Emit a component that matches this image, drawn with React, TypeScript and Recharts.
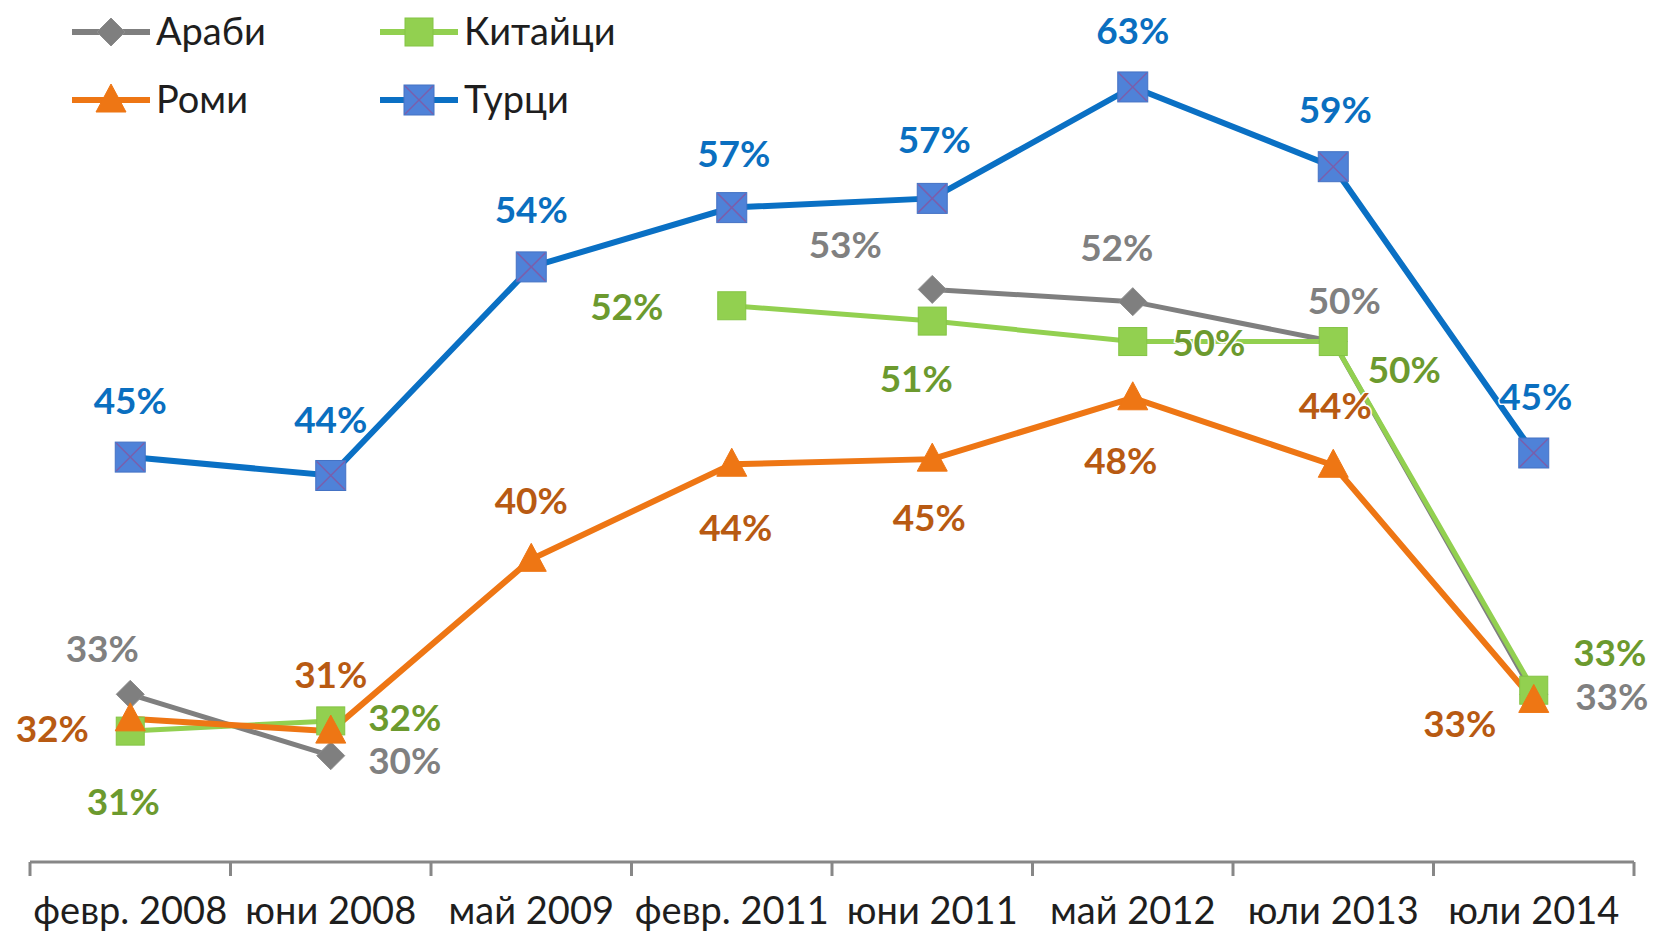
import React from 'react';
import { LineChart, Line, XAxis, YAxis, LabelList, Legend } from 'recharts';

// ---- data ----
const categories = ['февр. 2008', 'юни 2008', 'май 2009', 'февр. 2011', 'юни 2011', 'май 2012', 'юли 2013', 'юли 2014'];
const arabi = [33.2, 30.2, null, null, 53.0, 52.4, 50.45, 33.2];
const kitaytsi = [31.4, 31.9, null, 52.2, 51.45, 50.45, 50.45, 33.4];
const romi = [32.0, 31.4, 39.8, 44.45, 44.7, 47.7, 44.4, 32.9];
const turtsi = [44.8, 43.9, 54.1, 57.0, 57.45, 62.9, 59.0, 45.0];
const seriesNames = ['Араби', 'Китайци', 'Роми', 'Турци'];

const data = categories.map((c, i) => ({
  cat: c,
  arabi: arabi[i],
  kitaytsi: kitaytsi[i],
  romi: romi[i],
  turtsi: turtsi[i],
}));

// ---- layout ----
const W = 1653;
const H = 936;
const M = { top: 44, right: 19, left: 30, bottom: 0 };
const STEP = (W - M.left - M.right) / categories.length;
const FONT = 'Lato, "Liberation Sans", sans-serif';

const COLORS = {
  arabi: { line: '#7f7f7f', label: '#808080' },
  kitaytsi: { line: '#92D050', label: '#6c9a2e' },
  romi: { line: '#EE7614', label: '#b85a12' },
  turtsi: { line: '#0a70c4', label: '#0a6fc0' },
};

// label offsets (dx, dy) from each point
const arabiOffsets = [[-28, -45], [74, 5], [0, 0], [0, 0], [-87, -44], [-16, -54], [11, -41], [78, 3]];
const kitaytsiOffsets = [[-7, 71], [74, -3], [0, 0], [-105, 1], [-16, 58], [76, 1], [71, 28], [76, -37]];
const romiOffsets = [[-78, 10], [0, -56], [0, -58], [4, 64], [-3, 59], [-12, 63], [2, -59], [-74, 24]];
const turtsiOffsets = [[0, -56], [0, -55], [0, -57], [2, -54], [2, -58], [0, -56], [2, -57], [2, -56]];

type Shape = 'diamond' | 'square' | 'triangle' | 'xsquare';

function Marker({ cx, cy, shape }: { cx: number; cy: number; shape: Shape }) {
  if (shape === 'diamond') {
    return (
      <polygon
        points={`${cx},${cy - 14} ${cx + 14},${cy} ${cx},${cy + 14} ${cx - 14},${cy}`}
        fill="#7f7f7f"
        stroke="#8c8c8c"
        strokeWidth={1}
      />
    );
  }
  if (shape === 'square') {
    return <rect x={cx - 14} y={cy - 14} width={28} height={28} fill="#92D050" stroke="#84c444" strokeWidth={1} />;
  }
  if (shape === 'triangle') {
    return (
      <polygon
        points={`${cx},${cy - 16} ${cx + 15},${cy + 12} ${cx - 15},${cy + 12}`}
        fill="#EE7614"
        stroke="#EE7614"
        strokeWidth={1}
      />
    );
  }
  return (
    <g>
      <rect x={cx - 15} y={cy - 15} width={30} height={30} fill="#4f82d8" stroke="#4472c4" strokeWidth={1} />
      <line x1={cx - 14} y1={cy - 14} x2={cx + 14} y2={cy + 14} stroke="#7b5eab" strokeWidth={1.5} />
      <line x1={cx + 14} y1={cy - 14} x2={cx - 14} y2={cy + 14} stroke="#7b5eab" strokeWidth={1.5} />
    </g>
  );
}

const makeDot = (shape: Shape) => (props: any) => {
  const { cx, cy, index, value } = props;
  if (cx == null || cy == null || value == null || (Array.isArray(value) && value[1] == null)) {
    return <g key={`d-${shape}-${index}`} />;
  }
  return (
    <g key={`d-${shape}-${index}`}>
      <Marker cx={cx} cy={cy} shape={shape} />
    </g>
  );
};

const makeLabel = (offsets: number[][], color: string) => (props: any) => {
  const { x, y, value, index } = props;
  if (value == null || x == null || y == null) return null;
  const [dx, dy] = offsets[index];
  return (
    <text
      key={`l-${color}-${index}`}
      x={x + dx}
      y={y + dy + 13}
      textAnchor="middle"
      fill={color}
      fontFamily={FONT}
      fontWeight="bold"
      fontSize={37}
      stroke="#ffffff"
      strokeWidth={3}
      paintOrder="stroke"
    >
      {`${Math.round(Number(value))}%`}
    </text>
  );
};

const renderTick = (props: any) => {
  const { x, y, payload, index } = props;
  return (
    <g>
      <line x1={x - STEP / 2} x2={x - STEP / 2} y1={y} y2={y + 14} stroke="#878787" strokeWidth={3} />
      {index === categories.length - 1 && (
        <line x1={x + STEP / 2} x2={x + STEP / 2} y1={y} y2={y + 14} stroke="#878787" strokeWidth={3} />
      )}
      <text x={x} y={y + 62} textAnchor="middle" fill="#1e1e1e" fontFamily={FONT} fontSize={38}>
        {payload.value}
      </text>
    </g>
  );
};

const legendLayout = [
  { x: 72, y: 32, color: COLORS.arabi.line, shape: 'diamond' as Shape },
  { x: 380, y: 32, color: COLORS.kitaytsi.line, shape: 'square' as Shape },
  { x: 72, y: 100, color: COLORS.romi.line, shape: 'triangle' as Shape },
  { x: 380, y: 100, color: COLORS.turtsi.line, shape: 'xsquare' as Shape },
];

const renderLegend = () => (
  <svg width={720} height={140} style={{ display: 'block' }}>
    {seriesNames.map((name, i) => {
      const l = legendLayout[i];
      return (
        <g key={name}>
          <line x1={l.x} x2={l.x + 78} y1={l.y} y2={l.y} stroke={l.color} strokeWidth={6} />
          <Marker cx={l.x + 39} cy={l.y} shape={l.shape} />
          <text x={l.x + 84} y={l.y + 13} fill="#1e1e1e" fontFamily={FONT} fontSize={38}>
            {name}
          </text>
        </g>
      );
    })}
  </svg>
);

export default function App() {
  return (
    <div style={{ position: 'absolute', left: 0, top: 0, width: W, height: H, background: '#fff' }}>
      <LineChart width={W} height={H} data={data} margin={M}>
        <XAxis
          dataKey="cat"
          scale="band"
          height={74}
          axisLine={{ stroke: '#878787', strokeWidth: 3 }}
          tickLine={false}
          tickSize={0}
          tickMargin={0}
          interval={0}
          tick={renderTick}
        />
        <YAxis hide domain={[25, 65]} type="number" />
        <Legend
          content={renderLegend}
          layout="horizontal"
          verticalAlign="middle"
          align="center"
          wrapperStyle={{ position: 'absolute', left: 0, top: 0, width: 720, height: 140 }}
        />
        <Line
          dataKey="arabi"
          name={seriesNames[0]}
          stroke={COLORS.arabi.line}
          strokeWidth={5}
          dot={makeDot('diamond')}
          activeDot={false}
          isAnimationActive={false}
        >
          <LabelList dataKey="arabi" content={makeLabel(arabiOffsets, COLORS.arabi.label)} />
        </Line>
        <Line
          dataKey="kitaytsi"
          name={seriesNames[1]}
          stroke={COLORS.kitaytsi.line}
          strokeWidth={5}
          dot={makeDot('square')}
          activeDot={false}
          isAnimationActive={false}
        >
          <LabelList dataKey="kitaytsi" content={makeLabel(kitaytsiOffsets, COLORS.kitaytsi.label)} />
        </Line>
        <Line
          dataKey="romi"
          name={seriesNames[2]}
          stroke={COLORS.romi.line}
          strokeWidth={6}
          dot={makeDot('triangle')}
          activeDot={false}
          isAnimationActive={false}
        >
          <LabelList dataKey="romi" content={makeLabel(romiOffsets, COLORS.romi.label)} />
        </Line>
        <Line
          dataKey="turtsi"
          name={seriesNames[3]}
          stroke={COLORS.turtsi.line}
          strokeWidth={6}
          dot={makeDot('xsquare')}
          activeDot={false}
          isAnimationActive={false}
        >
          <LabelList dataKey="turtsi" content={makeLabel(turtsiOffsets, COLORS.turtsi.label)} />
        </Line>
      </LineChart>
    </div>
  );
}
